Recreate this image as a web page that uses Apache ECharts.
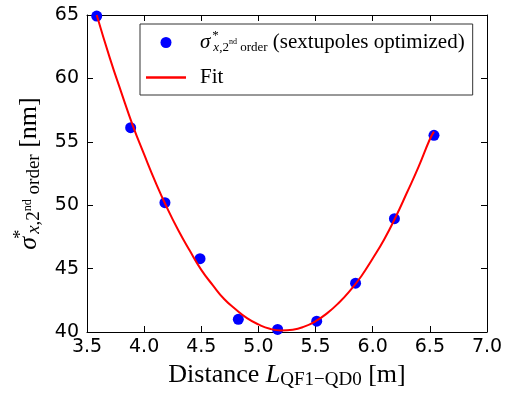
<!DOCTYPE html>
<html>
<head>
<meta charset="utf-8">
<script src="https://cdn.jsdelivr.net/npm/echarts@6/dist/echarts.min.js"></script>
<style>
  html, body { margin: 0; padding: 0; background: #fff; }
  #chart { width: 516px; height: 400px; }
</style>
</head>
<body>
<div id="chart"></div>
<script>
  // measured points (distance in m, emittance in nm)
  var pointX = [3.585, 3.882, 4.182, 4.489, 4.824, 5.168, 5.51, 5.85, 6.19, 6.536];
  var pointY = [64.92, 56.11, 50.2, 45.78, 41.0, 40.2, 40.85, 43.85, 48.94, 55.51];
  // fit curve
  var fitX = [3.585, 3.7, 3.8, 3.9, 4.0, 4.1, 4.2, 4.3, 4.4, 4.5, 4.6, 4.7, 4.8, 4.9, 5.0, 5.1,
              5.2, 5.3, 5.4, 5.5, 5.6, 5.7, 5.8, 5.9, 6.0, 6.1, 6.2, 6.3, 6.4, 6.5, 6.536];
  var fitY = [65.0, 61.6, 58.9, 56.3, 54.0, 51.8, 49.8, 48.0, 46.4, 44.9, 43.7, 42.6, 41.8, 41.1, 40.6, 40.25,
              40.12, 40.18, 40.42, 40.85, 41.47, 42.27, 43.25, 44.4, 45.8, 47.3, 49.05, 51.0, 53.0, 55.2, 55.8];

  var serif = '"Liberation Serif", "DejaVu Serif", serif';
  var sans = '"DejaVu Sans", sans-serif';

  var scatterData = pointX.map(function (x, i) { return [x, pointY[i]]; });
  var fitData = fitX.map(function (x, i) { return [x, fitY[i]]; });

  function mathRich(big, small, drop) {
    return {
      it: { fontFamily: serif, fontStyle: 'italic', fontSize: big, color: '#000' },
      ital: { fontFamily: serif, fontStyle: 'italic', fontSize: big, color: '#000', padding: [0, 0, 0, 9] },
      star: { fontFamily: serif, fontSize: small, color: '#000', width: 1, padding: [0, 0, drop + 4, 2] },
      subi: { fontFamily: serif, fontStyle: 'italic', fontSize: small, color: '#000', padding: [drop, 0, 0, 0] },
      sub: { fontFamily: serif, fontSize: small, color: '#000', padding: [drop, 0, 0, 0] },
      nd: { fontFamily: serif, fontSize: Math.round(small * 0.62), color: '#000', padding: [0, 0, 2, 0] },
      txt: { fontFamily: serif, fontSize: big, color: '#000' },
      txtp: { fontFamily: serif, fontSize: big, color: '#000', padding: [0, 0, 0, 9] }
    };
  }

  var xAxisBase = {
    type: 'value',
    min: 3.5,
    max: 7.0,
    interval: 0.5,
    axisLine: { onZero: false, lineStyle: { color: '#000', width: 1 } },
    axisTick: { inside: true, length: 6, lineStyle: { color: '#000' } },
    splitLine: { show: false }
  };
  var yAxisBase = {
    type: 'value',
    min: 40,
    max: 65,
    interval: 5,
    axisLine: { show: true, onZero: false, lineStyle: { color: '#000', width: 1 } },
    axisTick: { show: true, inside: true, length: 6, lineStyle: { color: '#000' } },
    splitLine: { show: false }
  };

  var chart = echarts.init(document.getElementById('chart'));
  chart.setOption({
    animation: false,
    backgroundColor: '#fff',
    grid: { left: 87, right: 29, top: 15, bottom: 68 },
    legend: {
      left: 140,
      top: 24,
      orient: 'vertical',
      padding: [5, 8, 7, 6],
      itemGap: 13,
      itemWidth: 40,
      itemHeight: 11,
      borderColor: '#333',
      borderWidth: 1,
      borderRadius: 0,
      textStyle: { fontFamily: serif, fontSize: 21, color: '#000', rich: mathRich(21, 13, 10) },
      formatter: function (name) {
        if (name === 'points') {
          return '{ital|σ}{star|*}{subi|x}{sub|,2}{nd|nd}{sub| order}{txt| (sextupoles optimized)}';
        }
        return '{txtp|' + name + '}';
      },
      data: [
        { name: 'points', icon: 'circle' },
        { name: 'Fit', icon: 'path://M0,0 L40,0 L40,2.5 L0,2.5 Z' }
      ]
    },
    xAxis: [
      Object.assign({}, xAxisBase, {
        position: 'bottom',
        axisLabel: {
          fontFamily: sans, fontSize: 19, color: '#000', margin: 6,
          formatter: function (v) { return v.toFixed(1); }
        },
        name: '{txt|Distance }{it|L}{sub|QF1−QD0}{txt| [m]}',
        nameLocation: 'middle',
        nameGap: 29,
        nameTextStyle: { rich: mathRich(26, 19, 10) }
      }),
      Object.assign({}, xAxisBase, {
        position: 'top',
        axisLabel: { show: false }
      })
    ],
    yAxis: [
      Object.assign({}, yAxisBase, {
        position: 'left',
        axisLabel: { fontFamily: sans, fontSize: 19, color: '#000', margin: 8 },
        name: '{it|σ}{star|*}{subi|x}{sub|,2}{nd|nd}{sub| order}{txt| [nm]}',
        nameLocation: 'middle',
        nameRotate: 90,
        nameGap: 38,
        nameTextStyle: { rich: mathRich(26, 19, 11) }
      }),
      Object.assign({}, yAxisBase, {
        position: 'right',
        axisLabel: { show: false }
      })
    ],
    series: [
      {
        name: 'points',
        type: 'scatter',
        data: scatterData,
        symbol: 'circle',
        symbolSize: 11,
        itemStyle: { color: '#0000ff', opacity: 1 },
        z: 3
      },
      {
        name: 'Fit',
        type: 'line',
        data: fitData,
        smooth: true,
        showSymbol: false,
        symbol: 'none',
        lineStyle: { color: '#ff0000', width: 2 },
        itemStyle: { color: '#ff0000' },
        z: 4
      }
    ]
  });
</script>
</body>
</html>
